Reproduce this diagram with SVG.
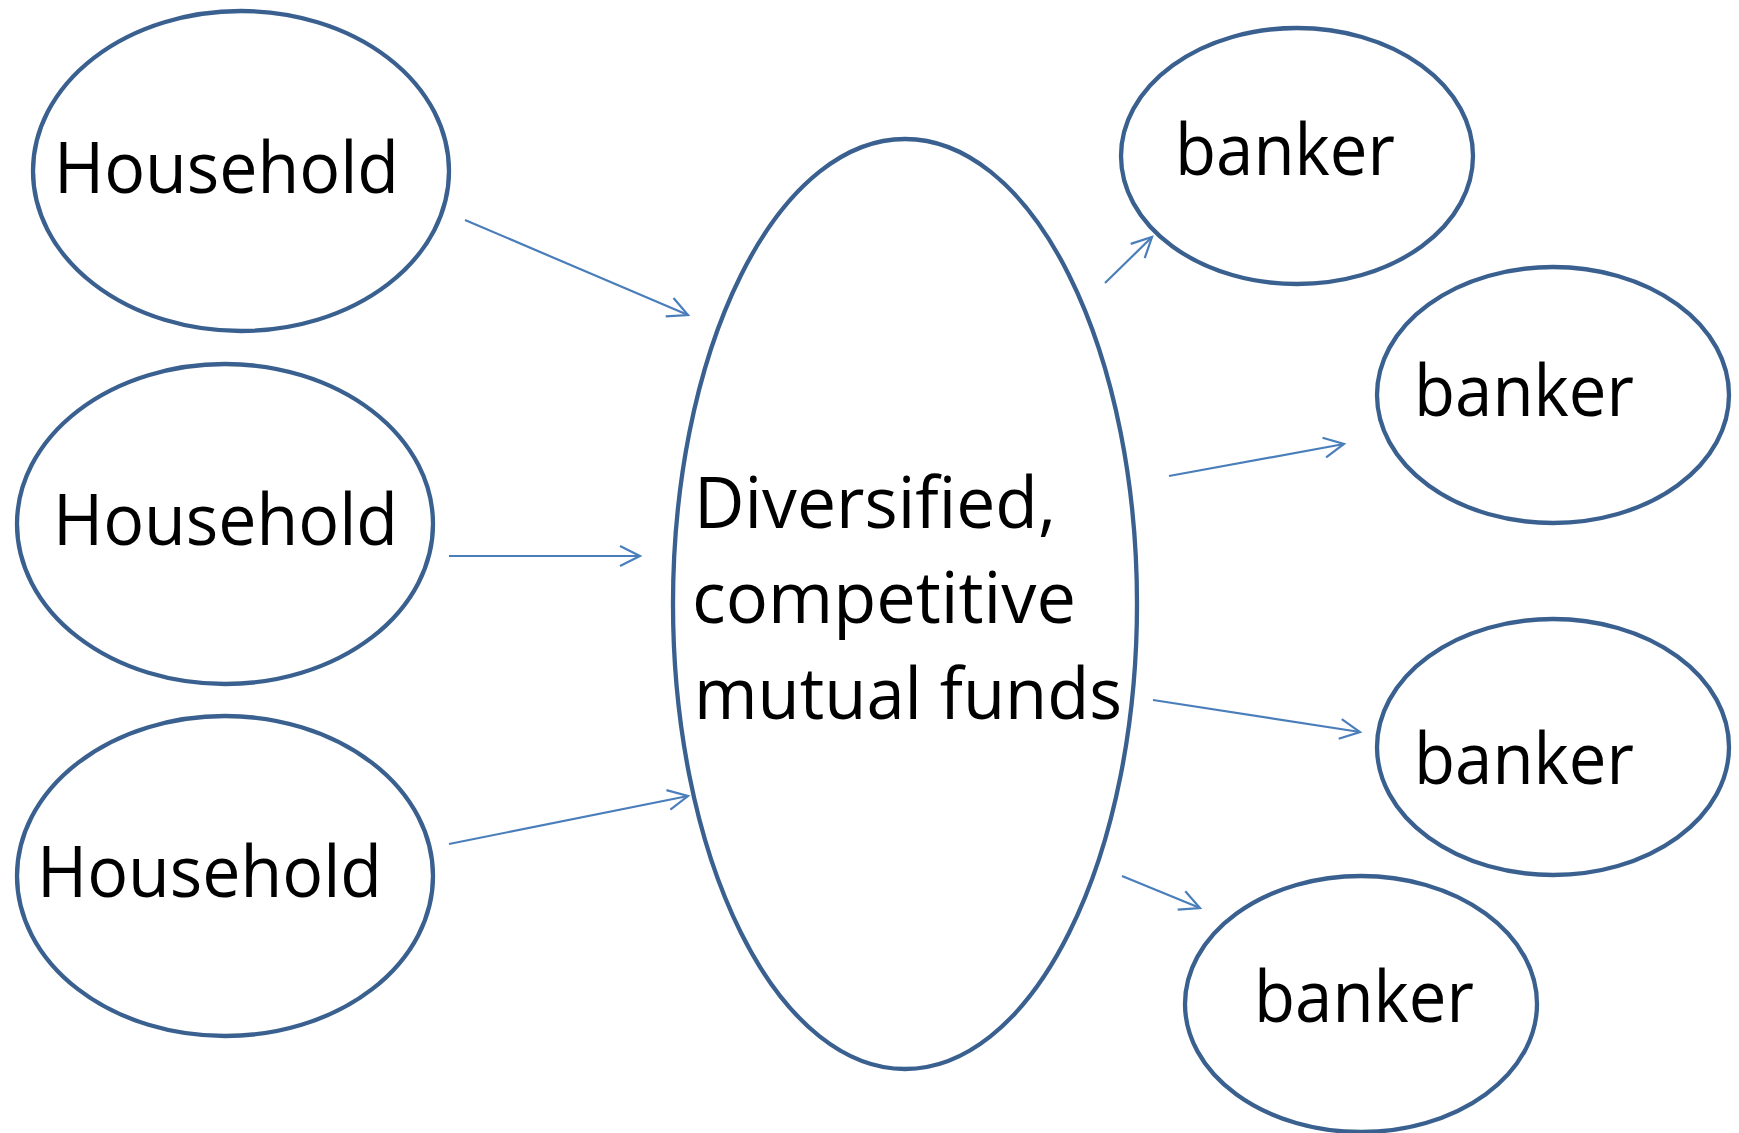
<svg xmlns="http://www.w3.org/2000/svg" width="1739" height="1133" viewBox="0 0 1739 1133">
<style>
.node{fill:#fff;stroke:#3a6090;stroke-width:4.3}
.lbl{font-family:"Open Sans","Noto Sans",sans-serif;font-size:71px;fill:#000}
.conn{stroke:#4a7ebb;stroke-width:2.2;fill:none;marker-end:url(#ah)}
</style>
<defs>
<marker id="ah" markerUnits="userSpaceOnUse" markerWidth="30" markerHeight="30" refX="22" refY="11" orient="auto" viewBox="0 0 30 22">
<path d="M2,1 L22,11 L2,21" fill="none" stroke="#4a7ebb" stroke-width="2.2"/>
</marker>
</defs>
<rect width="1739" height="1133" fill="#fff"/>
<g id="household1"><ellipse class="node" cx="241" cy="171" rx="208" ry="160"/><text class="lbl" x="54" y="193" textLength="345" lengthAdjust="spacingAndGlyphs">Household</text></g>
<g id="household2"><ellipse class="node" cx="225" cy="524" rx="208" ry="160"/><text class="lbl" x="53" y="545" textLength="345" lengthAdjust="spacingAndGlyphs">Household</text></g>
<g id="household3"><ellipse class="node" cx="225" cy="876" rx="208" ry="160"/><text class="lbl" x="37" y="897" textLength="345" lengthAdjust="spacingAndGlyphs">Household</text></g>
<g id="funds"><ellipse class="node" cx="905" cy="604" rx="232" ry="465"/>
<text class="lbl" x="694" y="528" textLength="362" lengthAdjust="spacingAndGlyphs">Diversified,</text>
<text class="lbl" x="692" y="623" textLength="384" lengthAdjust="spacingAndGlyphs">competitive</text>
<text class="lbl" x="694" y="719" textLength="428" lengthAdjust="spacingAndGlyphs">mutual funds</text></g>
<g id="banker1"><ellipse class="node" cx="1297" cy="156" rx="176" ry="128"/><text class="lbl" x="1175" y="175" textLength="220" lengthAdjust="spacingAndGlyphs">banker</text></g>
<g id="banker2"><ellipse class="node" cx="1553" cy="395" rx="176" ry="128"/><text class="lbl" x="1414" y="416" textLength="220" lengthAdjust="spacingAndGlyphs">banker</text></g>
<g id="banker3"><ellipse class="node" cx="1553" cy="747" rx="176" ry="128"/><text class="lbl" x="1414" y="784" textLength="220" lengthAdjust="spacingAndGlyphs">banker</text></g>
<g id="banker4"><ellipse class="node" cx="1361" cy="1004" rx="176" ry="128"/><text class="lbl" x="1254" y="1022" textLength="220" lengthAdjust="spacingAndGlyphs">banker</text></g>
<g id="connectors">
<line class="conn" x1="465" y1="220" x2="688" y2="315"/>
<line class="conn" x1="449" y1="556" x2="640" y2="556"/>
<line class="conn" x1="449" y1="844" x2="688" y2="796"/>
<line class="conn" x1="1105" y1="283" x2="1152" y2="237"/>
<line class="conn" x1="1169" y1="476" x2="1344" y2="444"/>
<line class="conn" x1="1153" y1="700" x2="1360" y2="732"/>
<line class="conn" x1="1122" y1="876" x2="1200" y2="908"/>
</g>
</svg>
